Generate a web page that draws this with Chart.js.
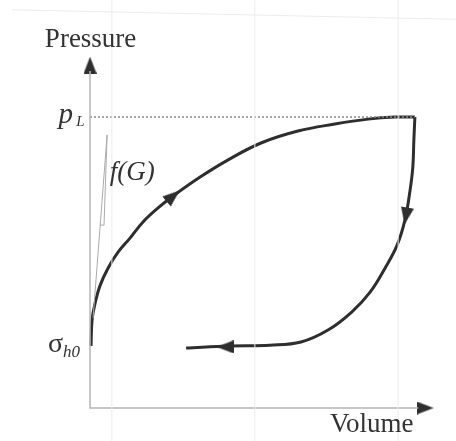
<!DOCTYPE html>
<html>
<head>
<meta charset="utf-8">
<script src="https://cdn.jsdelivr.net/npm/chart.js@4/dist/chart.umd.min.js"></script>
<style>
  html, body { margin: 0; padding: 0; background: #fff; }
  #wrap { width: 456px; height: 441px; position: relative; }
</style>
</head>
<body>
<div id="wrap"><canvas id="pv_chart"></canvas></div>
<script>
// loading branch: from sigma_h0 up to the limit pressure p_L
var loadVolume   = [0.3, 0.6, 1.5, 2.9, 5.3, 8.2, 11.7, 15.5, 19.9, 24.3, 32.2, 40.4, 50.0, 60.8, 71.6, 81.3, 89.2, 95.0];
var loadPressure = [17.7, 25.1, 29.9, 34.8, 39.9, 44.4, 48.4, 53.0, 57.0, 60.4, 65.8, 70.7, 75.5, 78.9, 80.9, 82.3, 82.9, 82.9];

// unloading branch
var unloadVolume   = [95.0, 94.7, 94.4, 93.6, 92.1, 89.8, 86.3, 81.9, 76.6, 69.6, 61.7, 52.6, 40.9, 28.1];
var unloadPressure = [82.9, 76.4, 68.7, 62.1, 53.6, 46.4, 39.9, 33.0, 27.4, 22.2, 18.8, 17.9, 17.7, 17.1];

var pL = 82.9;      // limit pressure
var sigmaH0 = 17.7; // initial stress

// slope sketch for f(G)
var fgLineV = [0.9, 5.0];
var fgLineP = [25.6, 77.8];
var fgTriV  = [2.9, 4.1, 5.0];
var fgTriP  = [52.1, 52.1, 77.8];

// arrow heads on the curve and on the axes
var arrowV   = [24.3, 92.4, 39.5, 0, 98.0];
var arrowP   = [60.4, 54.7, 17.4, 97.7, 0];
var arrowRot = [50, 190, 270, 0, 90];

// faint lines of the scanned sheet
var sheetV = [6.4, 48.2, 90.1];

var X_MIN = -26.32, X_MAX = 107.02, Y_MIN = -9.40, Y_MAX = 116.24;

function pts(xs, ys) {
  return xs.map(function (x, i) { return {x: x, y: ys[i]}; });
}

// arrow head, pointing up before rotation
function arrowHead(w, h) {
  var c = document.createElement('canvas');
  c.width = w; c.height = h;
  var g = c.getContext('2d');
  g.fillStyle = '#2e2e2e';
  g.beginPath();
  g.moveTo(w / 2, 0);
  g.lineTo(w, h);
  g.lineTo(0, h);
  g.closePath();
  g.fill();
  return c;
}
var head = arrowHead(13, 17);

var sheetSets = sheetV.map(function (v) {
  return {
    data: [{x: v, y: Y_MIN}, {x: v, y: Y_MAX}],
    borderColor: '#ececec', borderWidth: 1, pointRadius: 0, showLine: true
  };
});

var labelPlugin = {
  id: 'labels',
  afterDatasetsDraw: function (chart) {
    var ctx = chart.ctx, sx = chart.scales.x, sy = chart.scales.y;
    function put(txt, x, y, font) {
      ctx.font = font;
      ctx.fillText(txt, sx.getPixelForValue(x), sy.getPixelForValue(y));
    }
    ctx.save();
    ctx.fillStyle = '#333';
    ctx.textAlign = 'left';
    ctx.textBaseline = 'alphabetic';
    put('Pressure', -13.2, 102.8, '27px "Liberation Serif"');
    put('p', -9.2, 81.2, 'italic 29px "Liberation Serif"');
    put('L', -4.0, 80.4, 'italic 15px "Liberation Serif"');
    put('σ', -12.3, 16.0, '28px "Liberation Serif"');
    put('h0', -7.9, 14.5, 'italic 17px "Liberation Serif"');
    put('f(G)', 5.8, 65.0, 'italic 27px "Liberation Serif"');
    put('Volume', 70.2, -6.8, '27px "Liberation Serif"');
    ctx.restore();
  }
};

new Chart(document.getElementById('pv_chart').getContext('2d'), {
  type: 'scatter',
  data: {
    datasets: sheetSets.concat([
      {
        data: [{x: -22.8, y: Y_MAX - 2.8}, {x: X_MAX, y: Y_MAX - 5.5}],
        borderColor: '#ececec', borderWidth: 1, pointRadius: 0, showLine: true
      },
      {
        // axes
        data: [{x: 0, y: 96}, {x: 0, y: 0}, {x: 96, y: 0}],
        borderColor: '#b5b5b5', borderWidth: 1.5, pointRadius: 0, showLine: true
      },
      {
        // p_L level
        data: [{x: 0, y: pL}, {x: 95, y: pL}],
        borderColor: '#888', borderWidth: 1.5, borderDash: [2, 2], pointRadius: 0, showLine: true
      },
      {
        data: pts(fgLineV, fgLineP),
        borderColor: '#aaa', borderWidth: 1, pointRadius: 0, showLine: true
      },
      {
        data: pts(fgTriV, fgTriP),
        borderColor: '#aaa', borderWidth: 1, pointRadius: 0, showLine: true
      },
      {
        data: pts(loadVolume, loadPressure),
        borderColor: '#2e2e2e', borderWidth: 3, pointRadius: 0, showLine: true, tension: 0.4
      },
      {
        data: pts(unloadVolume, unloadPressure),
        borderColor: '#2e2e2e', borderWidth: 3, pointRadius: 0, showLine: true, tension: 0.4
      },
      {
        data: pts(arrowV, arrowP),
        pointStyle: head, pointRotation: arrowRot, pointRadius: 8, showLine: false
      }
    ])
  },
  options: {
    responsive: true,
    maintainAspectRatio: false,
    animation: false,
    layout: { padding: 0, autoPadding: false },
    plugins: { legend: { display: false }, tooltip: { enabled: false } },
    scales: {
      x: { type: 'linear', min: X_MIN, max: X_MAX, display: false },
      y: { type: 'linear', min: Y_MIN, max: Y_MAX, display: false }
    }
  },
  plugins: [labelPlugin]
});
</script>
</body>
</html>
